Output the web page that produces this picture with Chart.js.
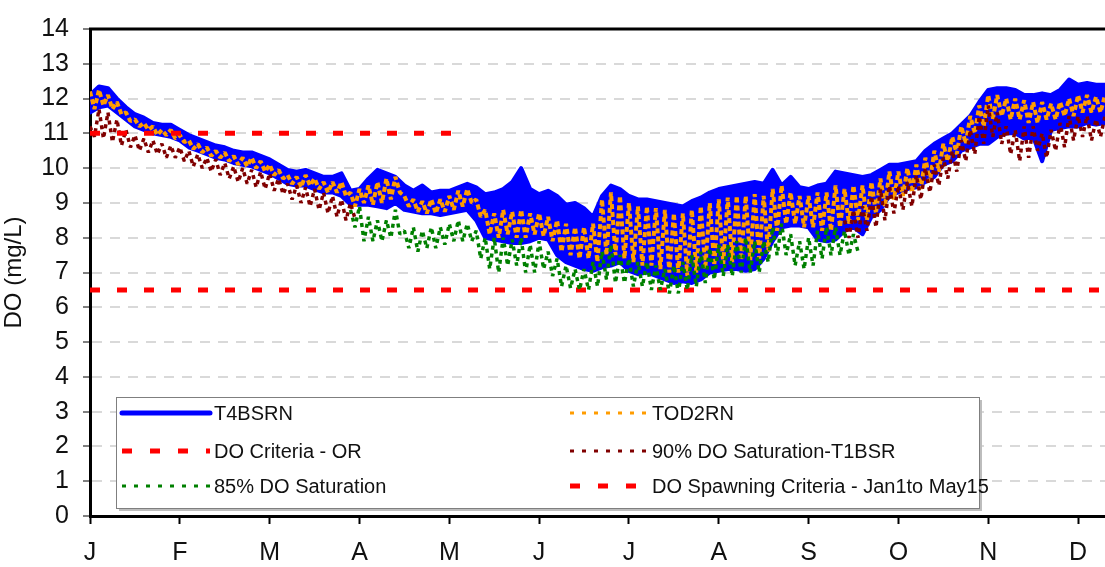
<!DOCTYPE html>
<html>
<head>
<meta charset="utf-8">
<script src="https://cdn.jsdelivr.net/npm/chart.js@4.4.1/dist/chart.umd.min.js"></script>
<style>
  html, body { margin: 0; padding: 0; background: #fff; }
  #wrap { width: 1105px; height: 567px; }
</style>
</head>
<body>
<div id="wrap"><canvas id="doChart" width="1105" height="567"></canvas></div>
<script>
// month tick labels (one tick per month start, x unit = months since Jan 1)
const monthLabels = ['J', 'F', 'M', 'A', 'M', 'J', 'J', 'A', 'S', 'O', 'N', 'D'];
const sampleStep = 0.1; // months between read samples

// T4BSRN (blue band) - upper / lower envelope
const blueHi = [
  12.1, 12.35, 12.3, 12.0, 11.75, 11.55, 11.45, 11.3, 11.25, 11.25,
  11.1, 10.95, 10.85, 10.75, 10.65, 10.6, 10.5, 10.45, 10.45, 10.35,
  10.25, 10.1, 9.95, 9.9, 9.95, 9.85, 9.75, 9.75, 9.85, 9.35,
  9.4, 9.7, 9.95, 9.85, 9.75, 9.5, 9.35, 9.5, 9.3, 9.35,
  9.35, 9.45, 9.55, 9.45, 9.25, 9.3, 9.4, 9.6, 10.0, 9.4,
  9.25, 9.35, 9.2, 8.95, 9.0, 8.85, 8.6, 9.2, 9.5, 9.4,
  9.2, 9.1, 9.1, 9.05, 9.0, 8.95, 8.9, 9.05, 9.15, 9.3,
  9.4, 9.45, 9.5, 9.55, 9.6, 9.55, 9.95, 9.5, 9.75, 9.45,
  9.4, 9.5, 9.55, 9.9, 9.85, 9.8, 9.75, 9.8, 9.95, 10.1,
  10.1, 10.15, 10.2, 10.5, 10.7, 10.85, 11.0, 11.25, 11.5, 11.9,
  12.25, 12.3, 12.3, 12.25, 12.1, 12.1, 12.15, 12.1, 12.25, 12.55,
  12.4, 12.45, 12.4, 12.4
];
const blueLo = [
  11.6, 11.75, 11.8, 11.6, 11.4, 11.2, 11.1, 11.0, 10.95, 10.9,
  10.8, 10.6, 10.5, 10.4, 10.3, 10.25, 10.15, 10.1, 10.05, 9.95,
  9.85, 9.7, 9.55, 9.5, 9.5, 9.4, 9.3, 9.3, 9.2, 8.95,
  8.95, 8.95, 8.9, 8.85, 9.0, 8.8, 8.75, 8.7, 8.7, 8.65,
  8.7, 8.75, 8.8, 8.5, 8.0, 7.95, 7.9, 7.85, 7.85, 7.9,
  8.0, 7.95, 7.5, 7.3, 7.2, 7.1, 7.05, 7.15, 7.2, 7.3,
  7.05, 6.95, 7.0, 6.9, 6.8, 6.7, 6.75, 6.7, 6.8, 7.0,
  7.05, 7.1, 7.1, 7.05, 7.1, 7.4, 7.9, 8.3, 8.35, 8.35,
  8.3, 7.95, 7.9, 7.95, 8.2, 8.3, 8.1, 8.6, 8.8, 9.2,
  9.3, 9.4, 9.45, 9.6, 9.75, 10.1, 10.2, 10.5, 10.6, 10.7,
  10.7, 10.9, 11.0, 11.0, 10.85, 10.9, 10.2, 11.1, 11.15, 11.2,
  11.2, 11.3, 11.25, 11.3
];

// TOD2RN (orange)
const orangeHi = [
  12.2, 12.25, 12.1, 11.9, 11.6, 11.4, 11.3, 11.2, 11.1, 11.1,
  10.95, 10.8, 10.7, 10.6, 10.5, 10.45, 10.35, 10.3, 10.3, 10.2,
  10.1, 9.95, 9.8, 9.75, 9.8, 9.7, 9.6, 9.6, 9.6, 9.3,
  9.4, 9.5, 9.6, 9.7, 9.75, 9.2, 9.1, 9.05, 9.1, 9.1,
  9.2, 9.35, 9.4, 9.1, 8.8, 8.7, 8.8, 8.75, 8.8, 8.7,
  8.7, 8.6, 8.5, 8.4, 8.3, 8.3, 8.4, 9.1, 9.3, 9.2,
  9.0, 8.9, 8.9, 8.85, 8.8, 8.7, 8.7, 8.8, 8.9, 9.0,
  9.1, 9.15, 9.2, 9.2, 9.25, 9.2, 9.4, 9.5, 9.3, 9.2,
  9.2, 9.3, 9.3, 9.5, 9.4, 9.5, 9.5, 9.6, 9.7, 9.9,
  9.9, 10.0, 10.1, 10.3, 10.5, 10.7, 10.9, 11.2, 11.5, 11.8,
  12.1, 12.1, 12.0, 12.0, 11.95, 11.9, 11.9, 11.85, 11.9, 12.0,
  12.1, 12.1, 12.05, 12.1
];
const orangeLo = [
  11.7, 11.8, 11.7, 11.55, 11.35, 11.2, 11.1, 10.95, 10.95, 10.85,
  10.75, 10.55, 10.45, 10.35, 10.3, 10.2, 10.1, 10.05, 10.0, 9.9,
  9.8, 9.7, 9.55, 9.45, 9.5, 9.4, 9.3, 9.3, 9.2, 8.9,
  9.0, 8.95, 9.0, 9.1, 9.3, 8.9, 8.75, 8.7, 8.7, 8.75,
  8.8, 8.9, 9.0, 8.6, 8.1, 8.0, 8.1, 8.0, 8.0, 8.1,
  8.05, 7.9, 7.6, 7.5, 7.4, 7.4, 7.3, 7.5, 7.5, 7.4,
  7.3, 7.2, 7.2, 7.1, 7.0, 7.0, 6.9, 7.0, 7.1, 7.2,
  7.25, 7.3, 7.35, 7.35, 7.4, 7.6, 8.2, 8.4, 8.4, 8.3,
  8.3, 8.2, 8.2, 8.3, 8.4, 8.5, 8.5, 8.7, 8.9, 9.1,
  9.2, 9.3, 9.4, 9.6, 9.9, 10.2, 10.4, 10.7, 11.0, 11.2,
  11.4, 11.5, 11.4, 11.4, 11.3, 11.3, 11.4, 11.4, 11.5, 11.5,
  11.6, 11.6, 11.6, 11.6
];

// 90% DO Saturation-T1BSR (dark red)
const brownHi = [
  11.2, 11.7, 11.6, 11.4, 11.1, 10.95, 10.85, 10.8, 10.7, 10.65,
  10.6, 10.5, 10.4, 10.3, 10.25, 10.15, 10.05, 10.0, 9.95, 9.9,
  9.85, 9.7, 9.55, 9.5, 9.45, 9.4, 9.3, 9.2, 9.1, 9.0,
  null, null, null, null, null, null, null, null, null, null,
  null, null, null, null, null, null, null, null, null, null,
  null, null, null, null, null, null, null, null, null, null,
  null, null, null, null, null, null, null, null, null, null,
  null, null, null, null, null, null, null, null, null, null,
  null, null, null, null, 8.5, 8.8, 8.9, 9.2, 9.4, 9.5,
  9.5, 9.6, 9.8, 10.0, 10.1, 10.3, 10.5, 10.8, 11.1, 11.5,
  11.8, 11.6, 11.2, 11.1, 11.2, 11.2, 11.0, 11.1, 11.3, 11.5,
  11.5, 11.5, 11.4, 11.5
];
const brownLo = [
  10.9, 10.85, 10.75, 10.65, 10.6, 10.5, 10.45, 10.4, 10.3, 10.3,
  10.2, 10.05, 10.0, 9.9, 9.8, 9.7, 9.6, 9.55, 9.45, 9.4,
  9.35, 9.25, 9.1, 9.0, 8.9, 8.8, 8.7, 8.6, 8.5, 8.55,
  null, null, null, null, null, null, null, null, null, null,
  null, null, null, null, null, null, null, null, null, null,
  null, null, null, null, null, null, null, null, null, null,
  null, null, null, null, null, null, null, null, null, null,
  null, null, null, null, null, null, null, null, null, null,
  null, null, null, null, 8.0, 8.0, 8.2, 8.3, 8.5, 8.7,
  8.8, 8.9, 9.1, 9.3, 9.5, 9.7, 9.9, 10.2, 10.4, 10.7,
  10.9, 10.7, 10.4, 10.2, 10.3, 10.5, 10.3, 10.5, 10.6, 10.8,
  10.9, 10.8, 10.9, 11.0
];

// 85% DO Saturation (green)
const greenHi = [
  null, null, null, null, null, null, null, null, null, null,
  null, null, null, null, null, null, null, null, null, null,
  null, null, null, null, null, null, null, null, null, 8.8,
  8.9, 8.6, 8.5, 8.5, 8.8, 8.2, 8.3, 8.2, 8.3, 8.3,
  8.4, 8.5, 8.4, 8.2, 8.0, 8.0, 8.0, 7.95, 8.0, 7.8,
  7.9, 7.6, 7.4, 7.2, 7.1, 7.1, 7.3, 7.6, 7.8, 7.5,
  7.4, 7.3, 7.3, 7.2, 7.1, 7.2, 7.3, 7.5, 7.6, 7.7,
  7.8, 7.8, 7.9, 8.0, 7.9, 7.9, 8.3, 8.4, 8.1, 7.9,
  8.0, 8.2, 8.3, 8.3, 8.2, 8.1, null, null, null, null,
  null, null, null, null, null, null, null, null, null, null,
  null, null, null, null, null, null, null, null, null, null,
  null, null, null, null
];
const greenLo = [
  null, null, null, null, null, null, null, null, null, null,
  null, null, null, null, null, null, null, null, null, null,
  null, null, null, null, null, null, null, null, null, 8.3,
  7.9, 7.9, 7.9, 8.0, 8.1, 7.7, 7.6, 7.7, 7.7, 7.8,
  7.9, 7.9, 7.9, 7.4, 7.1, 7.0, 7.2, 7.2, 7.0, 7.0,
  7.1, 6.9, 6.6, 6.55, 6.5, 6.5, 6.6, 6.8, 6.7, 6.7,
  6.6, 6.6, 6.5, 6.5, 6.4, 6.4, 6.5, 6.6, 6.7, 6.8,
  6.9, 6.9, 7.0, 7.0, 7.0, 7.3, 7.5, 7.5, 7.2, 7.1,
  7.2, 7.4, 7.5, 7.5, 7.5, 7.6, null, null, null, null,
  null, null, null, null, null, null, null, null, null, null,
  null, null, null, null, null, null, null, null, null, null,
  null, null, null, null
];

// criteria lines
const criteriaOR = 6.5;
const criteriaSpan = [0, 11.3];
const spawningDO = 11;
const spawningSpan = [0, 4.1];

const seriesNames = [
  'T4BSRN', 'TOD2RN', 'DO Criteria - OR',
  '90% DO Saturation-T1BSR', '85% DO Saturation', 'DO Spawning Criteria - Jan1to May15'
];

const sampleX = blueHi.map((_, i) => +(i * sampleStep).toFixed(2));

function band(values) {
  return values.map((v, i) => ({ x: sampleX[i], y: v }));
}
// alternate high / low readings so the line fills the band like the daily swings
function zigzag(hi, lo) {
  const pts = [];
  hi.forEach((h, i) => {
    if (h === null) { pts.push({ x: sampleX[i], y: null }); return; }
    pts.push({ x: sampleX[i], y: h });
    pts.push({ x: sampleX[i] + sampleStep / 2, y: lo[i] });
  });
  return pts;
}

const BLUE = '#0000ff', ORANGE = '#ff9c00', RED = '#ff0000', BROWN = '#800000', GREEN = '#008000';

// legend entries drawn inside the plot, two columns
const legendItems = [
  { text: seriesNames[0], color: BLUE, width: 5, dash: [], cap: 'round', col: 0, row: 0 },
  { text: seriesNames[1], color: ORANGE, width: 3, dash: [4, 8], cap: 'butt', col: 1, row: 0 },
  { text: seriesNames[2], color: RED, width: 5, dash: [10, 18], cap: 'butt', col: 0, row: 1 },
  { text: seriesNames[3], color: BROWN, width: 3, dash: [4, 8], cap: 'butt', col: 1, row: 1 },
  { text: seriesNames[4], color: GREEN, width: 3, dash: [4, 8], cap: 'butt', col: 0, row: 2 },
  { text: seriesNames[5], color: RED, width: 5, dash: [10, 18], cap: 'butt', col: 1, row: 2 }
];

const boxLegend = {
  id: 'boxLegend',
  afterDatasetsDraw(chart) {
    const ctx = chart.ctx;
    const a = chart.chartArea;
    const x0 = a.left + 26, y0 = 397, w = 863, h = 111;
    ctx.save();
    ctx.fillStyle = '#bdbdbd';
    ctx.fillRect(x0 + 3, y0 + 3, w, h);
    ctx.fillStyle = '#fff';
    ctx.fillRect(x0, y0, w, h);
    ctx.strokeStyle = '#7f7f7f';
    ctx.lineWidth = 1;
    ctx.strokeRect(x0 + 0.5, y0 + 0.5, w, h);
    const rowsY = [413, 451, 486];
    const colsX = [[122, 210], [570, 648]];
    ctx.font = '20px "Liberation Sans", Arial, sans-serif';
    ctx.textBaseline = 'middle';
    legendItems.forEach(it => {
      const [lx0, lx1] = colsX[it.col];
      const y = rowsY[it.row];
      ctx.beginPath();
      ctx.setLineDash(it.dash);
      ctx.lineCap = it.cap;
      ctx.strokeStyle = it.color;
      ctx.lineWidth = it.width;
      ctx.moveTo(lx0, y);
      ctx.lineTo(lx1, y);
      ctx.stroke();
      ctx.setLineDash([]);
      ctx.fillStyle = '#111';
      ctx.fillText(it.text, lx1 + 4, y + 1);
    });
    ctx.restore();
  },
  afterDraw(chart) {
    const ctx = chart.ctx;
    const a = chart.chartArea;
    ctx.save();
    ctx.strokeStyle = '#000';
    ctx.lineWidth = 3;
    ctx.beginPath();
    ctx.moveTo(a.left - 1, a.top);
    ctx.lineTo(a.right, a.top);
    ctx.stroke();
    ctx.restore();
  }
};

const lineDefaults = { pointRadius: 0, tension: 0, spanGaps: false, fill: false, borderJoinStyle: 'bevel' };

document.addEventListener('DOMContentLoaded', function () {
  const ctx = document.getElementById('doChart').getContext('2d');
  new Chart(ctx, {
    type: 'line',
    data: {
      datasets: [
        Object.assign({}, lineDefaults, {
          label: seriesNames[5],
          data: spawningSpan.map(x => ({ x: x, y: spawningDO })),
          borderColor: RED, borderWidth: 5, borderDash: [10, 17], borderCapStyle: 'butt', order: 0
        }),
        Object.assign({}, lineDefaults, {
          label: seriesNames[4],
          data: zigzag(greenHi, greenLo),
          borderColor: GREEN, borderWidth: 3.5, borderDash: [4, 4], order: 1
        }),
        Object.assign({}, lineDefaults, {
          label: seriesNames[3],
          data: zigzag(brownHi, brownLo),
          borderColor: BROWN, borderWidth: 3.5, borderDash: [4, 4], order: 2
        }),
        Object.assign({}, lineDefaults, {
          label: seriesNames[2],
          data: criteriaSpan.map(x => ({ x: x, y: criteriaOR })),
          borderColor: RED, borderWidth: 5, borderDash: [10, 17], borderCapStyle: 'butt', order: 3
        }),
        Object.assign({}, lineDefaults, {
          label: seriesNames[1],
          data: zigzag(orangeHi, orangeLo),
          borderColor: ORANGE, borderWidth: 4, borderDash: [5, 3], order: 4
        }),
        Object.assign({}, lineDefaults, {
          label: seriesNames[0],
          data: band(blueHi),
          borderColor: BLUE, backgroundColor: BLUE, borderWidth: 4,
          borderJoinStyle: 'round', borderCapStyle: 'round', fill: '+1', order: 5
        }),
        Object.assign({}, lineDefaults, {
          label: seriesNames[0] + ' low',
          data: band(blueLo),
          borderColor: BLUE, borderWidth: 4,
          borderJoinStyle: 'round', borderCapStyle: 'round', order: 6
        })
      ]
    },
    options: {
      responsive: false,
      animation: false,
      devicePixelRatio: 1,
      layout: { padding: { top: 26, right: 0, left: 0, bottom: 0 } },
      plugins: {
        legend: { display: false },
        tooltip: { enabled: false }
      },
      scales: {
        x: {
          type: 'linear',
          min: 0,
          max: 11.3,
          grid: {
            display: true, drawOnChartArea: false, drawTicks: true,
            tickLength: 8, tickColor: '#000', tickWidth: 2
          },
          border: { display: true, color: '#000', width: 3 },
          ticks: {
            stepSize: 1,
            includeBounds: false,
            autoSkip: false,
            maxRotation: 0,
            padding: 14,
            color: '#111',
            font: { family: '"Liberation Sans", Arial, sans-serif', size: 25 },
            callback: function (value) {
              return Number.isInteger(value) ? (monthLabels[value] || '') : '';
            }
          },
          afterFit: function (scale) { scale.height = 51; }
        },
        y: {
          min: 0,
          max: 14,
          grid: {
            color: '#d9d9d9', lineWidth: 2, drawTicks: true,
            tickLength: 7, tickColor: '#000', tickWidth: 1, tickBorderDash: []
          },
          border: { display: true, color: '#000', width: 3, dash: [10, 8] },
          ticks: {
            stepSize: 1,
            padding: 14,
            color: '#111',
            font: { family: '"Liberation Sans", Arial, sans-serif', size: 25 }
          },
          title: {
            display: true,
            text: 'DO (mg/L)',
            color: '#111',
            padding: { top: 0, bottom: 4 },
            font: { family: '"Liberation Sans", Arial, sans-serif', size: 24 }
          },
          afterFit: function (scale) { scale.width = 90; }
        }
      }
    },
    plugins: [boxLegend]
  });
});
</script>
</body>
</html>
